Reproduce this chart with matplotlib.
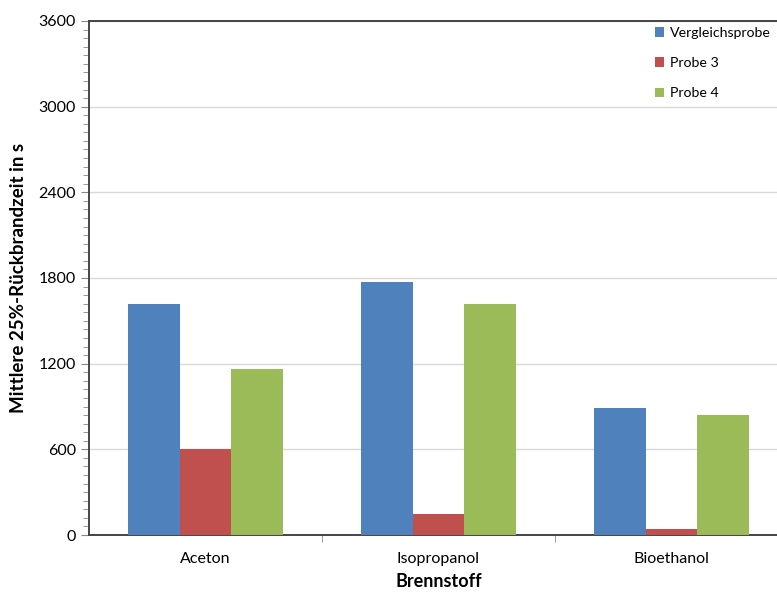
import matplotlib.pyplot as plt
import numpy as np
from matplotlib.ticker import MultipleLocator, FixedLocator

plt.rcParams['font.family'] = ['Lato', 'DejaVu Sans']

fuels = ["Aceton", "Isopropanol", "Bioethanol"]
series = ["Vergleichsprobe", "Probe 3", "Probe 4"]
vergleich = [1620, 1770, 890]
probe3 = [600, 145, 40]
probe4 = [1165, 1620, 840]
colors = ["#4F81BD", "#C0504D", "#9BBB59"]

fig = plt.figure(figsize=(7.77, 5.93), dpi=100)
ax = fig.add_axes([0.1145, 0.0978, 0.8996, 0.8668])

x = np.arange(len(fuels))
w = 0.221
for i, (vals, name) in enumerate(zip([vergleich, probe3, probe4], series)):
    ax.bar(x + (i - 1) * w, vals, width=w, color=colors[i], label=name, zorder=3)

ax.set_xlim(-0.5, 2.5)
ax.set_ylim(0, 3600)
ax.yaxis.set_major_locator(MultipleLocator(600))
ax.yaxis.set_minor_locator(MultipleLocator(60))
ax.grid(axis="y", color="#d9d9d9", linewidth=1, zorder=0)

ax.set_xticks(x)
ax.set_xticklabels(fuels, fontsize=11.5)
ax.xaxis.set_minor_locator(FixedLocator([0.5, 1.5]))
ax.tick_params(axis="x", which="major", length=0, pad=12)
ax.tick_params(axis="x", which="minor", length=5, color="#888888")
ax.tick_params(axis="y", which="major", length=6, labelsize=11.5, color="#888888")
ax.tick_params(axis="y", which="minor", length=4, color="#888888")

for s in ["left", "bottom", "top"]:
    ax.spines[s].set_color("#444444")
    ax.spines[s].set_linewidth(1.4)
ax.spines["right"].set_visible(False)

ax.set_ylabel("Mittlere 25%-Rückbrandzeit in s", fontsize=13.5, fontweight="bold", labelpad=8)
ax.set_xlabel("Brennstoff", fontsize=13, fontweight="bold", labelpad=5)

ax.legend(loc="upper left", bbox_to_anchor=(0.801, 1.0), frameon=False,
          borderaxespad=0, fontsize=10.2, handlelength=0.7, handleheight=0.7,
          handletextpad=0.4, labelspacing=1.3)

fig.savefig("out.png", dpi=100)
